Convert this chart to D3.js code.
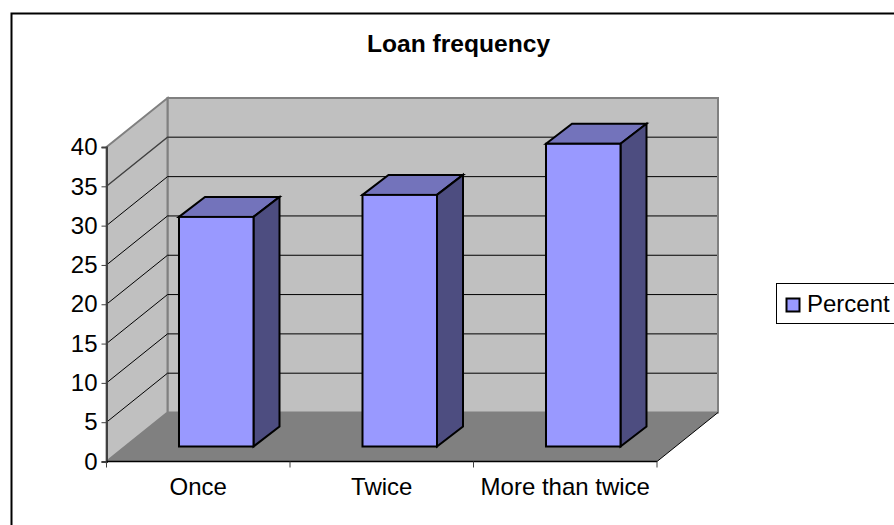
<!DOCTYPE html>
<html>
<head>
<meta charset="utf-8">
<script src="https://cdn.jsdelivr.net/npm/d3@7"></script>
<style>
  html, body { margin: 0; padding: 0; background: #fff; overflow: hidden; }
  svg { display: block; }
  text { font-family: "Liberation Sans", Arial, sans-serif; fill: #000; }
</style>
</head>
<body>
<div id="chart"></div>
<script>
// data
var categories = ["Once", "Twice", "More than twice"];
var percent = [29.2, 32, 38.5];
var yTicks = [0, 5, 10, 15, 20, 25, 30, 35, 40];
var chartTitle = "Loan frequency";
var seriesName = "Percent";

var width = 894, height = 525;

// front plane of the 3d box
var left = 106.5, right = 657, bottom = 461.5, top40 = 147;
// depth of the box, and where the bars sit inside it
var depthX = 61, depthY = -49;
var barOffX = 18, barOffY = -15;
var barDepthX = 26, barDepthY = -20;

var svg = d3.select("#chart").append("svg")
    .attr("width", width)
    .attr("height", height);

var x = d3.scaleBand()
    .domain(categories)
    .range([left, right])
    .paddingInner(0.594)
    .paddingOuter(0.297);

var y = d3.scaleLinear()
    .domain([0, 40])
    .range([bottom, top40]);

function poly(points) {
  return "M" + points.map(function(p) { return p[0] + "," + p[1]; }).join("L") + "Z";
}

// outer frame, only the top and left edges show
svg.append("path")
    .attr("d", "M11.5," + height + "V13.5H" + width)
    .attr("fill", "none")
    .attr("stroke", "#000")
    .attr("stroke-width", 2);

// title
svg.append("text")
    .attr("x", 458.5)
    .attr("y", 52)
    .attr("text-anchor", "middle")
    .attr("font-size", 24.6)
    .attr("font-weight", "bold")
    .text(chartTitle);

// back wall
svg.append("path")
    .attr("d", poly([[left + depthX, top40 + depthY], [right + depthX, top40 + depthY],
                     [right + depthX, bottom + depthY], [left + depthX, bottom + depthY]]))
    .attr("fill", "#c0c0c0")
    .attr("stroke", "#808080")
    .attr("stroke-width", 2);

// side wall
svg.append("path")
    .attr("d", poly([[left, top40], [left + depthX, top40 + depthY],
                     [left + depthX, bottom + depthY], [left, bottom]]))
    .attr("fill", "#c0c0c0")
    .attr("stroke", "#808080")
    .attr("stroke-width", 2);

// floor
svg.append("path")
    .attr("d", poly([[left, bottom], [left + depthX, bottom + depthY],
                     [right + depthX, bottom + depthY], [right, bottom]]))
    .attr("fill", "#808080");

// gridlines, along side wall then across back wall
svg.selectAll(".grid")
    .data(yTicks.filter(function(d) { return d > 0 && d < 40; }))
    .enter().append("path")
    .attr("class", "grid")
    .attr("fill", "none")
    .attr("stroke", function(d) { return d == 35 ? "#404040" : "#000"; })
    .attr("stroke-width", function(d) { return d == 35 ? 1.4 : 1; })
    .attr("d", function(d) {
      return "M" + left + "," + y(d) +
             "L" + (left + depthX) + "," + (y(d) + depthY) +
             "H" + (right + depthX - 1);
    });

// floor edge on the right
svg.append("path")
    .attr("d", "M" + right + "," + bottom + "L" + (right + depthX) + "," + (bottom + depthY))
    .attr("fill", "none")
    .attr("stroke", "#000")
    .attr("stroke-width", 1);

// bars: top, side, then front
var bars = svg.selectAll(".bar")
    .data(categories)
    .enter().append("g")
    .attr("class", "bar")
    .attr("stroke", "#000")
    .attr("stroke-width", 2)
    .attr("stroke-linejoin", "miter");

function barBox(d, i) {
  return {
    x0: x(d) + barOffX,
    x1: x(d) + barOffX + x.bandwidth(),
    y0: y(percent[i]) + barOffY,
    y1: y(0) + barOffY
  };
}

bars.append("path")
    .attr("fill", "#7373bb")
    .attr("d", function(d, i) {
      var b = barBox(d, i);
      return poly([[b.x0, b.y0], [b.x0 + barDepthX, b.y0 + barDepthY],
                   [b.x1 + barDepthX, b.y0 + barDepthY], [b.x1, b.y0]]);
    });

bars.append("path")
    .attr("fill", "#4d4d80")
    .attr("d", function(d, i) {
      var b = barBox(d, i);
      return poly([[b.x1, b.y0], [b.x1 + barDepthX, b.y0 + barDepthY],
                   [b.x1 + barDepthX, b.y1 + barDepthY], [b.x1, b.y1]]);
    });

bars.append("rect")
    .attr("fill", "#9999ff")
    .attr("x", function(d, i) { return barBox(d, i).x0; })
    .attr("y", function(d, i) { return barBox(d, i).y0; })
    .attr("width", x.bandwidth())
    .attr("height", function(d, i) { var b = barBox(d, i); return b.y1 - b.y0; });

// y axis
var yAxis = svg.append("g")
    .attr("transform", "translate(" + left + ",0)")
    .call(d3.axisLeft(y).tickValues(yTicks).tickSize(5).tickPadding(4));
yAxis.select(".domain").attr("stroke", "#404040").attr("stroke-width", 2);
yAxis.selectAll("line").attr("stroke", "#404040");
yAxis.selectAll("text")
    .attr("font-size", 24)
    .attr("font-family", "Liberation Sans")
    .attr("dy", "0.32em");

// x axis, ticks sit between the categories
var xEdges = d3.scaleLinear().domain([0, categories.length]).range([left, right]);
var xAxis = svg.append("g")
    .attr("transform", "translate(0," + bottom + ")")
    .call(d3.axisBottom(x).tickSize(0).tickPadding(16));
xAxis.select(".domain").attr("stroke", "#000").attr("stroke-width", 1.5)
    .attr("d", "M" + left + ",0H" + right);
xAxis.selectAll("text")
    .attr("font-size", 24)
    .attr("font-family", "Liberation Sans");
xAxis.selectAll(".edge")
    .data(d3.range(categories.length + 1))
    .enter().append("line")
    .attr("class", "edge")
    .attr("x1", function(d) { return xEdges(d); })
    .attr("x2", function(d) { return xEdges(d); })
    .attr("y1", 0)
    .attr("y2", 6)
    .attr("stroke", "#404040");

// legend, runs off the right edge of the picture
svg.append("rect")
    .attr("x", 776.5)
    .attr("y", 283.5)
    .attr("width", 130)
    .attr("height", 40)
    .attr("fill", "#fff")
    .attr("stroke", "#000")
    .attr("stroke-width", 1);
svg.append("rect")
    .attr("x", 786.5)
    .attr("y", 298.5)
    .attr("width", 13)
    .attr("height", 13)
    .attr("fill", "#9999ff")
    .attr("stroke", "#000")
    .attr("stroke-width", 2);
svg.append("text")
    .attr("x", 807)
    .attr("y", 312)
    .attr("font-size", 24)
    .text(seriesName);
</script>
</body>
</html>
